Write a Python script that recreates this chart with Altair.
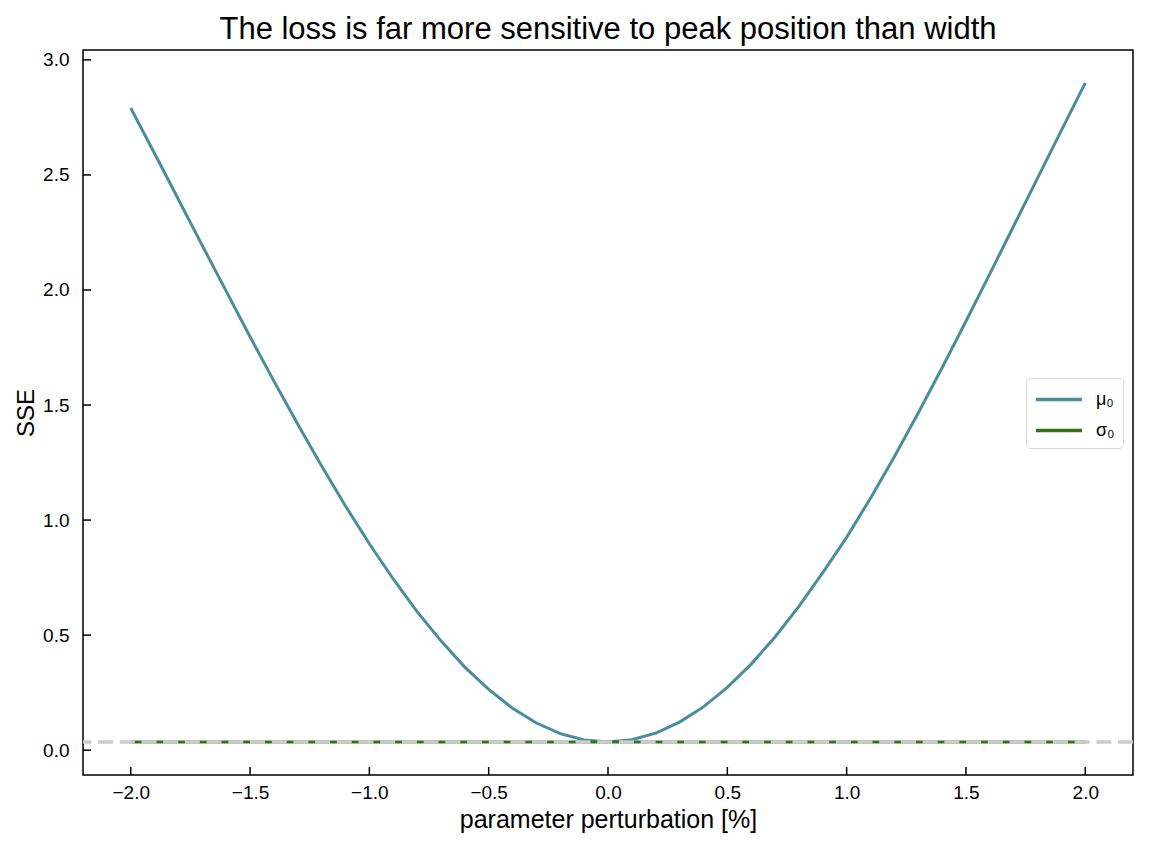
import altair as alt
import pandas as pd

# perturbation grid [%] and SSE
perturbation = [-2.0, -1.9, -1.8, -1.7, -1.6, -1.5, -1.4, -1.3, -1.2, -1.1,
                -1.0, -0.9, -0.8, -0.7, -0.6, -0.5, -0.4, -0.3, -0.2, -0.1,
                0.0, 0.1, 0.2, 0.3, 0.4, 0.5, 0.6, 0.7, 0.8, 0.9,
                1.0, 1.1, 1.2, 1.3, 1.4, 1.5, 1.6, 1.7, 1.8, 1.9, 2.0]
sse_mu = [2.791, 2.593, 2.393, 2.193, 1.995, 1.797, 1.604, 1.416, 1.235, 1.061,
          0.897, 0.744, 0.602, 0.475, 0.361, 0.264, 0.182, 0.118, 0.072, 0.044,
          0.035, 0.045, 0.074, 0.122, 0.188, 0.273, 0.374, 0.492, 0.625, 0.772,
          0.925, 1.095, 1.275, 1.465, 1.662, 1.864, 2.070, 2.278, 2.486, 2.694, 2.900]
sse_sigma = [0.0351, 0.0351, 0.0351, 0.0351, 0.0350, 0.0350, 0.0350, 0.0350, 0.0350, 0.0350,
             0.0350, 0.0350, 0.0350, 0.0350, 0.0350, 0.0350, 0.0350, 0.0350, 0.0350, 0.0350,
             0.0350, 0.0350, 0.0350, 0.0350, 0.0350, 0.0350, 0.0350, 0.0350, 0.0350, 0.0350,
             0.0350, 0.0350, 0.0350, 0.0350, 0.0350, 0.0350, 0.0351, 0.0351, 0.0351, 0.0351, 0.0351]
baseline_sse = 0.035

x_ticks = [-2.0, -1.5, -1.0, -0.5, 0.0, 0.5, 1.0, 1.5, 2.0]
y_ticks = [0.0, 0.5, 1.0, 1.5, 2.0, 2.5, 3.0]
series_names = ["μ₀", "σ₀"]
series_colors = ["#4A8E9D", "#33701A"]

W, H = 1050, 725
FONT = "Liberation Sans"

df = pd.DataFrame({
    "p": perturbation * 2,
    "sse": sse_mu + sse_sigma,
    "param": [series_names[0]] * len(perturbation) + [series_names[1]] * len(perturbation),
})

xs = alt.Scale(domain=[-2.2, 2.2], nice=False, zero=False)
ys = alt.Scale(domain=[-0.108, 3.043], nice=False, zero=False)

minus = "replace(format(datum.value, '.1f'), '-', '\u2212')"
x_axis = alt.Axis(title="parameter perturbation [%]", values=x_ticks, labelExpr=minus,
                  ticks=False, domain=False, grid=False, labelPadding=8,
                  labelFontSize=19, titleFontSize=25, titlePadding=5,
                  labelFont=FONT, titleFont=FONT,
                  labelColor="black", titleColor="black", titleFontWeight="normal")
y_axis = alt.Axis(title="SSE", values=y_ticks, labelExpr=minus,
                  ticks=False, domain=False, grid=False, labelPadding=14,
                  labelFontSize=19, titleFontSize=24, titlePadding=4,
                  labelFont=FONT, titleFont=FONT,
                  labelColor="black", titleColor="black", titleFontWeight="normal")

# wide flat legend line: path runs from -1 to 3 symbol units so rows stay short
lines = alt.Chart(df).mark_line(strokeWidth=3).encode(
    x=alt.X("p:Q", scale=xs, axis=x_axis),
    y=alt.Y("sse:Q", scale=ys, axis=y_axis),
    color=alt.Color("param:N", scale=alt.Scale(domain=series_names, range=series_colors),
                    sort=series_names,
                    legend=alt.Legend(title=None, orient="none", legendX=943, legendY=328,
                                      symbolType="M-1,0H3", symbolStrokeWidth=3.5, symbolSize=529,
                                      labelFontSize=18, labelFont=FONT, labelColor="black",
                                      rowPadding=8, padding=8, labelOffset=35,
                                      fillColor="white", strokeColor="#d9d9d9",
                                      cornerRadius=4)),
    order=alt.Order("p:Q"),
)

base_line = alt.Chart(pd.DataFrame({"b": [baseline_sse]})).mark_rule(
    color="#cccccc", strokeWidth=3.5, strokeDash=[15, 6.7]
).encode(y=alt.Y("b:Q", scale=ys, axis=y_axis))

# inward ticks, matplotlib style
x_tick_marks = alt.Chart(pd.DataFrame({"t": x_ticks})).mark_rule(color="black", strokeWidth=1.5).encode(
    x=alt.X("t:Q", scale=xs, axis=x_axis), y=alt.value(H - 8), y2=alt.value(H))
y_tick_marks = alt.Chart(pd.DataFrame({"t": y_ticks})).mark_rule(color="black", strokeWidth=1.5).encode(
    y=alt.Y("t:Q", scale=ys, axis=y_axis), x=alt.value(0), x2=alt.value(8))

chart = alt.layer(lines, base_line, x_tick_marks, y_tick_marks).properties(
    width=W, height=H,
    title=alt.TitleParams("The loss is far more sensitive to peak position than width",
                          fontSize=31, font=FONT, fontWeight="normal", color="black",
                          anchor="middle", offset=4),
    autosize=alt.AutoSizeParams(type="none"),
    padding={"left": 75, "top": 42, "right": 8, "bottom": 60},
    background="white",
).configure_view(stroke="black", strokeWidth=1.5)

chart.save("out.html", embed_options={"renderer": "svg", "actions": False})
